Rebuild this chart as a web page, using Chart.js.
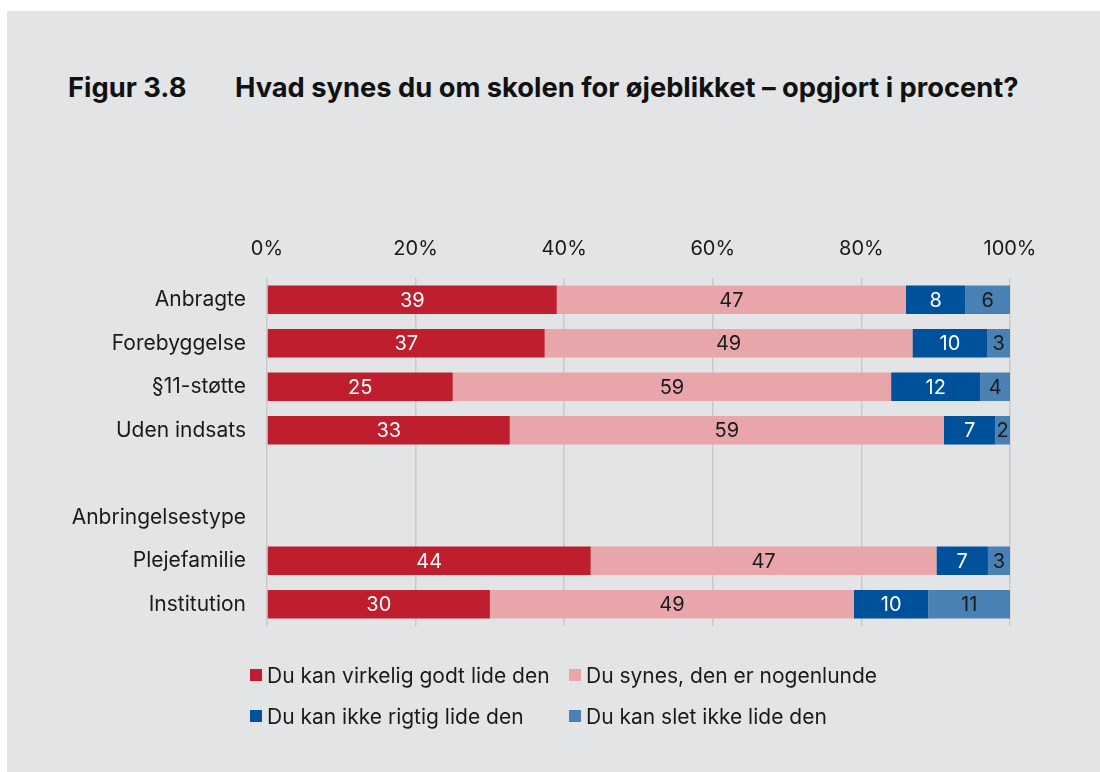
<!DOCTYPE html>
<html>
<head>
<meta charset="utf-8">
<script src="https://cdn.jsdelivr.net/npm/chart.js@4.4.1/dist/chart.umd.min.js"></script>
<style>
  html, body { margin: 0; padding: 0; background: #ffffff; }
  body { width: 1100px; height: 772px; position: relative; overflow: hidden; font-family: Inter, "Noto Sans", sans-serif; }
  #panel { position: absolute; left: 7px; top: 11px; right: 0; bottom: 0; background: #e3e4e6; }
  .title { position: absolute; top: 74px; font-weight: 700; font-size: 27.3px; line-height: 1; color: #111; white-space: nowrap; }
  #wrap { position: absolute; left: 0; top: 0; width: 1100px; height: 772px; }
  #legend { position: absolute; left: 250px; top: 663px; display: grid; grid-template-columns: 319px auto; row-gap: 17px; font-size: 21px; color: #1a1a1a; }
  .li { display: flex; align-items: center; height: 24px; white-space: nowrap; }
  .sw { width: 12px; height: 12px; margin-right: 5px; flex: none; }
</style>
</head>
<body>
<div id="panel"></div>
<div class="title" style="left:68px">Figur 3.8</div>
<div class="title" style="left:235px">Hvad synes du om skolen for øjeblikket – opgjort i procent?</div>
<div id="wrap"><canvas id="c" width="1100" height="772"></canvas></div>
<div id="legend"></div>
<script>
const categories = ["Anbragte", "Forebyggelse", "§11-støtte", "Uden indsats", "", "Anbringelsestype", "Plejefamilie", "Institution"];
const seriesNames = ["Du kan virkelig godt lide den", "Du synes, den er nogenlunde", "Du kan ikke rigtig lide den", "Du kan slet ikke lide den"];
const virkeligGodt = [39, 37, 25, 33, null, null, 44, 30];
const nogenlunde   = [47, 49, 59, 59, null, null, 47, 49];
const ikkeRigtig   = [8, 10, 12, 7, null, null, 7, 10];
const sletIkke     = [6, 3, 4, 2, null, null, 3, 11];
const tickValues = [0, 20, 40, 60, 80, 100];

const colors = ["#be1e2d", "#e8a6ab", "#00519c", "#4a81b4"];
const labelColors = ["#ffffff", "#1a1a1a", "#ffffff", "#1a1a1a"];
const raw = [virkeligGodt, nogenlunde, ikkeRigtig, sletIkke];

// 100% stacked: each row shown as share of its total
const totals = categories.map((_, i) => raw.reduce((s, arr) => s + (arr[i] || 0), 0));
const datasets = raw.map((arr, k) => ({
  label: seriesNames[k],
  data: arr.map((v, i) => v == null ? null : v / totals[i] * 100),
  rawValues: arr,
  backgroundColor: colors[k],
  borderWidth: 0,
  categoryPercentage: 1,
  barPercentage: 0.655
}));

const valueLabels = {
  id: 'valueLabels',
  afterDatasetsDraw(chart) {
    const ctx = chart.ctx;
    ctx.save();
    ctx.font = '20px Inter, "Noto Sans", sans-serif';
    ctx.textAlign = 'center';
    ctx.textBaseline = 'middle';
    chart.data.datasets.forEach((ds, k) => {
      const meta = chart.getDatasetMeta(k);
      meta.data.forEach((el, i) => {
        const v = ds.rawValues[i];
        if (v == null) return;
        const cx = (el.x + el.base) / 2;
        ctx.fillStyle = labelColors[k];
        ctx.fillText(String(v), cx, el.y + 1);
      });
    });
    ctx.restore();
  }
};

new Chart(document.getElementById('c'), {
  type: 'bar',
  data: { labels: categories, datasets },
  options: {
    indexAxis: 'y',
    responsive: false,
    animation: false,
    layout: { padding: { left: 0, right: 90, top: 0, bottom: 146 } },
    plugins: { legend: { display: false }, tooltip: { enabled: false } },
    scales: {
      x: {
        position: 'top',
        stacked: true,
        min: 0, max: 100,
        afterBuildTicks(axis) { axis.ticks = tickValues.map(v => ({ value: v })); },
        afterFit(axis) { axis.height = 278; },
        ticks: { callback: v => v + '%', color: '#1a1a1a', font: { family: 'Inter', size: 20 }, padding: 17, maxRotation: 0 },
        grid: { color: '#c9c9c9', lineWidth: 1.5, drawTicks: false },
        border: { display: false }
      },
      y: {
        stacked: true,
        afterFit(axis) { axis.width = 267; },
        ticks: { color: '#1a1a1a', font: { family: 'Inter', size: 21 }, padding: 21 },
        grid: { display: false, drawTicks: false },
        border: { display: false }
      }
    }
  },
  plugins: [valueLabels]
});

const legend = document.getElementById('legend');
seriesNames.forEach((name, k) => {
  const d = document.createElement('div');
  d.className = 'li';
  d.innerHTML = '<span class="sw" style="background:' + colors[k] + '"></span><span>' + name + '</span>';
  legend.appendChild(d);
});
</script>
</body>
</html>
